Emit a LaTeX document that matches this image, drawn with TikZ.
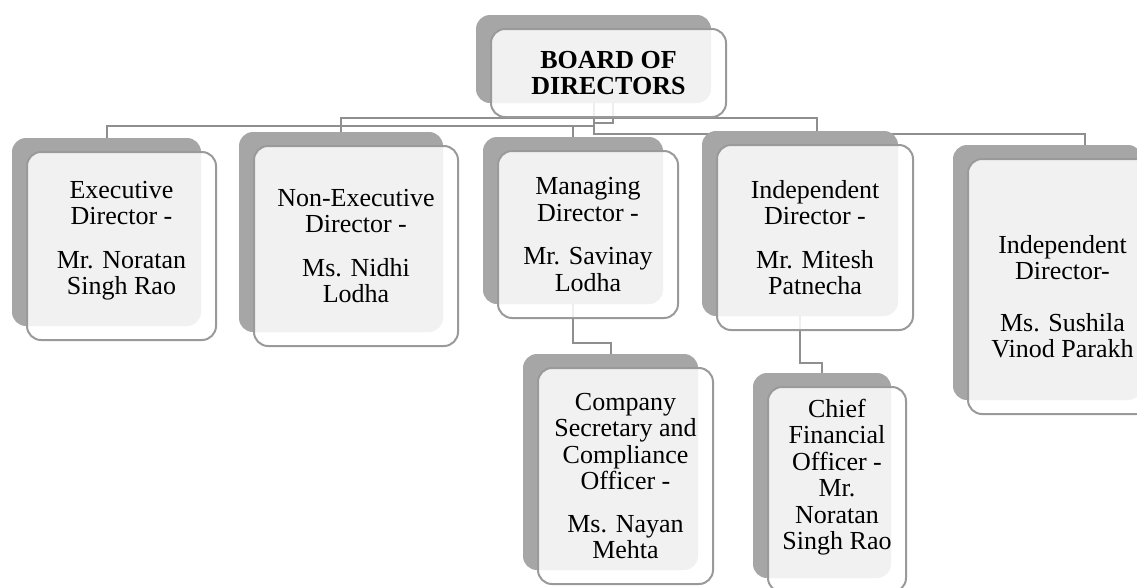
\documentclass[tikz,border=0pt]{standalone}
\usepackage{fontspec}
\setmainfont{Liberation Serif}
\pgfdeclarelayer{bg}
\pgfsetlayers{bg,main}
\definecolor{darkbox}{HTML}{A6A6A6}
\definecolor{linegray}{HTML}{8F8F8F}
\definecolor{edgegray}{HTML}{9A9A9A}
\tikzset{
  backbox/.style={rectangle, rounded corners=14pt, fill=darkbox, draw=none, inner sep=0pt, outer sep=0pt},
  frontbox/.style={rectangle, rounded corners=14pt, fill=white, fill opacity=0.85, text opacity=1,
    draw=edgegray, draw opacity=1, line width=2pt, inner sep=0pt, outer sep=0pt, align=center,
    font=\fontsize{26}{26.5}\selectfont},
  conn/.style={draw=linegray, line width=2pt}
}
\newcommand\orgbox[6]{%
  \node[backbox, minimum width=#4pt, minimum height=#5pt] (#1b) at ({#2+#4/2},{#3+#5/2}) {};
  \node[frontbox, minimum width=#4pt, minimum height=#5pt] (#1) at ({#2+15+#4/2},{#3+14+#5/2}) {#6};
}
\begin{document}
\begin{tikzpicture}[x=1pt,y=-1pt]
\useasboundingbox (0,0) rectangle (1137,587);
\clip (0,0) rectangle (1137,587);
\orgbox{board}{476}{15}{235}{88}{\textbf{BOARD OF}\\\textbf{DIRECTORS}}
\orgbox{exec}{12}{138}{189}{188}{Executive\\Director -\\[17pt]Mr. Noratan\\Singh Rao\\[-10.5pt]\mbox{}}
\orgbox{nonexec}{239}{132}{204}{200}{Non-Executive\\Director -\\[17pt]Ms. Nidhi\\Lodha}
\orgbox{managing}{483}{137}{180}{167}{Managing\\Director -\\[17pt]Mr. Savinay\\Lodha}
\orgbox{mitesh}{702}{131}{196}{185}{Independent\\Director -\\[17pt]Mr. Mitesh\\Patnecha}
\orgbox{sush}{953}{145}{189}{255}{\mbox{}\\[11.5pt]Independent\\Director-\\[25pt]Ms. Sushila\\Vinod Parakh}
\orgbox{cs}{523}{354}{175}{216}{Company\\Secretary and\\Compliance\\Officer -\\[16pt]Ms. Nayan\\Mehta}
\orgbox{cfo}{753}{373}{138}{205}{Chief\\Financial\\Officer -\\Mr.\\Noratan\\Singh Rao\\[3.5pt]\mbox{}}
\begin{pgfonlayer}{bg}
  \draw[conn] (boardb.south) -- ++(0,31) -| ([xshift=37.5pt]sushb.north);
  \draw[conn] (boardb.south) -- ++(0,23) -| (execb.north);
  \draw[conn] (managingb.north) -- ++(0,-12);
  \draw[conn] (nonexecb.north) -- ++(0,-14) -| ([xshift=17pt]miteshb.north);
  \draw[conn] ([xshift=19pt]boardb.south) -- ++(0,20) -- ++(-19,0);
  \draw[conn] (managingb.south) -- ++(0,39) -| (csb.north);
  \draw[conn] (miteshb.south) -- ++(0,47) -| (cfob.north);
\end{pgfonlayer}
\end{tikzpicture}
\end{document}
